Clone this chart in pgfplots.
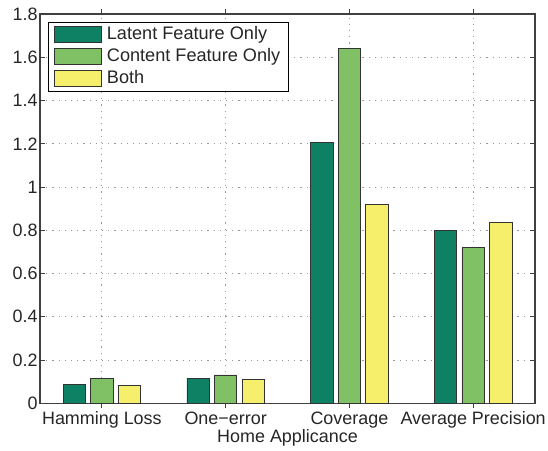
\documentclass[border=0pt]{standalone}
\usepackage{fontspec}
\setmainfont{Liberation Sans}
\usepackage{pgfplots}
\pgfplotsset{compat=1.18}
\definecolor{cA}{HTML}{0E8063}
\definecolor{cB}{HTML}{80C166}
\definecolor{cC}{HTML}{F5EF6B}
\definecolor{txt}{HTML}{262626}
\definecolor{axc}{HTML}{404040}
\begin{document}
\begin{tikzpicture}
\begin{axis}[
  scale only axis,
  width=495bp, height=389.3bp,
  xmin=0.5, xmax=4.5,
  ymin=0, ymax=1.8,
  xtick={1,2,3,4},
  xticklabels={Hamming Loss,One−error,Coverage,Average Precision},
  ytick={0,0.2,...,1.8},
  yticklabels={0,0.2,0.4,0.6,0.8,1,1.2,1.4,1.6,1.8},
  tick align=inside,
  tick pos=both,
  major tick length=5bp,
  grid=major,
  major grid style={dash pattern=on 1.2bp off 5bp, gray!80, line width=0.8pt},
  axis line style={axc, line width=1.2pt},
  tick style={axc, line width=0.8pt},
  font=\fontsize{18}{21}\selectfont,
  every tick label/.append style={txt},
  yticklabel style={xshift=1bp},
  xlabel={Home Applicance},
  xlabel style={txt, yshift=6bp},
  xticklabel style={yshift=0bp},
  /pgf/number format/assume math mode=true,
  ybar,
  bar width=0.18,
  legend cell align=left,
  legend style={at={(0.0155,0.98)}, anchor=north west, draw=black, line width=0.9pt,
    font=\fontsize{18.2}{21}\selectfont, text=txt, row sep=0bp, inner xsep=6bp, inner ysep=1.5bp,
    nodes={text height=13bp, text depth=4bp, inner ysep=2.5bp},
    /tikz/every odd column/.append style={column sep=3bp},
    /tikz/every even column/.append style={column sep=2bp}},
  legend image code/.code={\draw[#1, line width=0.8pt] (0bp,-8bp) rectangle (47bp,8bp);},
]
\addplot[fill=cA, draw=black!80, line width=0.7pt, bar shift=-0.223] coordinates {(1,0.088) (2,0.117) (3,1.207) (4,0.798)};
\addplot[fill=cB, draw=black!80, line width=0.7pt, bar shift=0] coordinates {(1,0.117) (2,0.131) (3,1.639) (4,0.721)};
\addplot[fill=cC, draw=black!80, line width=0.7pt, bar shift=0.223] coordinates {(1,0.081) (2,0.111) (3,0.920) (4,0.837)};
\legend{Latent Feature Only, Content Feature Only, Both}
\end{axis}
\pgfresetboundingbox
\path[use as bounding box] ([shift={(-40bp,-46.7bp)}]current axis.south west) rectangle ([shift={(13bp,14bp)}]current axis.north east);
\end{tikzpicture}
\end{document}
